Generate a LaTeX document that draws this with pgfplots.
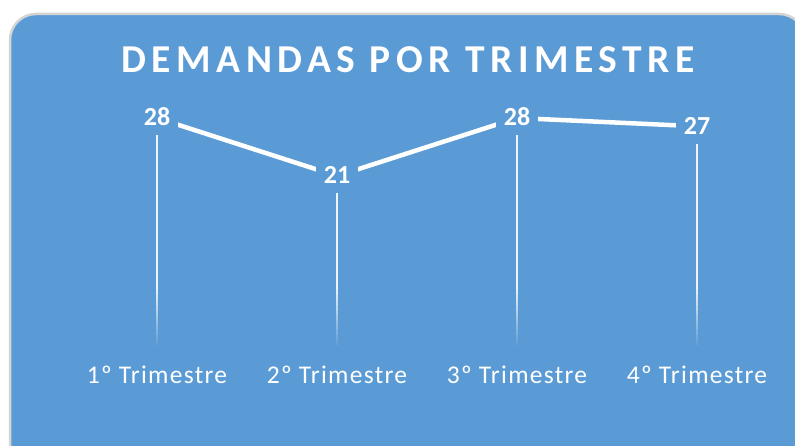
\documentclass[border=0pt]{standalone}
\usepackage{fontspec}
\setmainfont{Carlito}
\newfontfamily\titlefont[LetterSpace=14]{Carlito}
\newfontfamily\catfont[LetterSpace=5]{Carlito}
\usepackage{pgfplots}
\pgfplotsset{compat=1.18}
\definecolor{bg}{RGB}{91,155,213}
\definecolor{framec}{RGB}{212,212,212}
\begin{document}
\begin{tikzpicture}[x=1bp,y=1bp]
\useasboundingbox (0,0) rectangle (795,446);
\fill[white] (0,0) rectangle (795,446);
\begin{scope}
\clip (0,0) rectangle (795,446);
\draw[framec, line width=2.5bp, fill=bg, rounded corners=26bp] (10,-30) rectangle (805,432);
\end{scope}
\node[anchor=base, text=white, inner sep=0pt, font=\titlefont\bfseries\fontsize{39.5bp}{41bp}\selectfont] at (408,373) {DEMANDAS POR TRIMESTRE};
\begin{axis}[at={(67bp,96bp)}, anchor=south west, scale only axis,
  width=720bp, height=290bp,
  xmin=-0.5, xmax=3.5, ymin=0, ymax=35,
  /pgf/number format/assume math mode=true,
  axis line style={draw=none}, major tick length=0pt,
  ytick=\empty, xtick={0,1,2,3},
  xticklabels={1º Trimestre,2º Trimestre,3º Trimestre,4º Trimestre},
  xticklabel style={anchor=base, yshift=-34bp, text=white, inner sep=0pt,
    font=\catfont\fontsize{25.5bp}{27bp}\selectfont},
  clip=false]
\addplot[ycomb, white, opacity=0.9, line width=1.8bp, no marks] coordinates {(0,28) (1,21) (2,28) (3,27)};
\addplot[white, line width=4.5bp, no marks, nodes near coords, nodes near coords align=center,
  every node near coord/.append style={fill=bg, text=white,
    font=\bfseries\fontsize{26bp}{28bp}\selectfont,
    inner xsep=8bp, inner ysep=9.5bp, text height=16bp, text depth=0pt}]
  coordinates {(0,28) (1,21) (2,28) (3,27)};
\end{axis}
\foreach \i in {0,...,11} {
  \pgfmathsetmacro{\op}{1-\i/12}
  \fill[bg, opacity=\op] (60,96+5*\i) rectangle (790,101+5*\i);
}
\end{tikzpicture}
\end{document}
